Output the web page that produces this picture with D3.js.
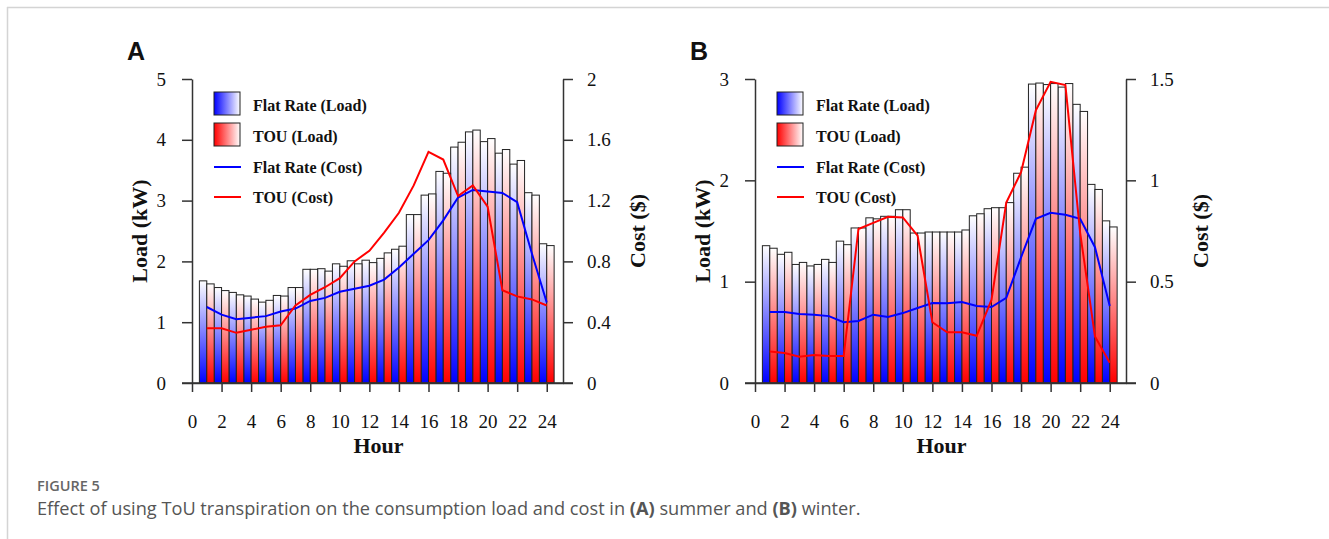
<!DOCTYPE html>
<html>
<head>
<meta charset="utf-8">
<script src="https://cdn.jsdelivr.net/npm/d3@7"></script>
<style>
  body { margin: 0; background: #fff; }
  svg { display: block; }
  .tick text { font-family: "Liberation Serif", "Times New Roman", serif; font-size: 19px; fill: #111; }
  .axis path, .axis line { stroke: #333; stroke-width: 1.5; }
  .title { font-family: "Liberation Serif", serif; font-weight: bold; font-size: 22px; fill: #111; }
  .legend text { font-family: "Liberation Serif", serif; font-weight: bold; font-size: 16px; fill: #111; }
  .panel { font-family: "Liberation Sans", Arial, sans-serif; font-weight: bold; font-size: 25px; fill: #111; }
</style>
</head>
<body>
<svg width="1329" height="539"></svg>
<script>
// hours of the day
const hours = [1, 2, 3, 4, 5, 6, 7, 8, 9, 10, 11, 12, 13, 14, 15, 16, 17, 18, 19, 20, 21, 22, 23, 24]

// (A) summer
const flatLoadA = [1.68, 1.57, 1.49, 1.43, 1.33, 1.44, 1.57, 1.87, 1.88, 1.96, 2.01, 2.02, 2.05, 2.20, 2.77, 3.09, 3.48, 3.88, 4.13, 3.97, 3.78, 3.60, 3.13, 2.29]
const touLoadA = [1.63, 1.52, 1.45, 1.38, 1.36, 1.43, 1.57, 1.87, 1.84, 1.92, 1.96, 1.98, 2.14, 2.25, 2.77, 3.11, 3.45, 3.96, 4.16, 4.02, 3.84, 3.66, 3.09, 2.26]
const flatCostA = [0.50, 0.45, 0.42, 0.43, 0.44, 0.47, 0.49, 0.54, 0.56, 0.60, 0.62, 0.64, 0.68, 0.76, 0.85, 0.94, 1.07, 1.22, 1.27, 1.26, 1.25, 1.19, 0.85, 0.53]
const touCostA = [0.36, 0.36, 0.33, 0.35, 0.37, 0.38, 0.51, 0.58, 0.63, 0.69, 0.80, 0.87, 0.99, 1.12, 1.30, 1.52, 1.47, 1.23, 1.30, 1.16, 0.61, 0.57, 0.55, 0.51]

// (B) winter
const flatLoadB = [1.355, 1.27, 1.17, 1.155, 1.22, 1.40, 1.53, 1.63, 1.645, 1.71, 1.48, 1.49, 1.49, 1.49, 1.65, 1.72, 1.73, 2.07, 2.95, 2.945, 2.92, 2.75, 1.96, 1.60]
const touLoadB = [1.33, 1.29, 1.19, 1.17, 1.19, 1.365, 1.53, 1.62, 1.645, 1.71, 1.48, 1.49, 1.49, 1.51, 1.67, 1.73, 1.78, 2.13, 2.96, 2.955, 2.955, 2.68, 1.91, 1.54]
const flatCostB = [0.35, 0.35, 0.34, 0.337, 0.33, 0.30, 0.306, 0.337, 0.326, 0.345, 0.37, 0.395, 0.393, 0.40, 0.38, 0.375, 0.42, 0.62, 0.81, 0.84, 0.83, 0.81, 0.67, 0.38]
const touCostB = [0.155, 0.148, 0.13, 0.138, 0.133, 0.133, 0.76, 0.79, 0.82, 0.817, 0.727, 0.30, 0.25, 0.25, 0.233, 0.41, 0.89, 1.04, 1.345, 1.486, 1.47, 0.74, 0.23, 0.10]

// tick labels
const hourTicks = [0, 2, 4, 6, 8, 10, 12, 14, 16, 18, 20, 22, 24]
const loadTicksA = [0, 1, 2, 3, 4, 5]
const costTicksA = [0, 0.4, 0.8, 1.2, 1.6, 2]
const loadTicksB = [0, 1, 2, 3]
const costTicksB = [0, 0.5, 1, 1.5]

const legendLabels = ['Flat Rate (Load)', 'TOU (Load)', 'Flat Rate (Cost)', 'TOU (Cost)']

const BLUE = '#0000ff'
const RED = '#ff0000'
const fmt = (d) => `${d}`

const svg = d3.select('svg')

// frame lines
svg.append('line').attr('x1', 7).attr('y1', 7.5).attr('x2', 1329).attr('y2', 7.5)
  .attr('stroke', '#d4d4d4').attr('stroke-width', 1.5)
svg.append('line').attr('x1', 7.5).attr('y1', 7).attr('x2', 7.5).attr('y2', 539)
  .attr('stroke', '#d4d4d4').attr('stroke-width', 1.5)

// gradients
const defs = svg.append('defs')
function grad(id, color, vertical) {
  const g = defs.append('linearGradient').attr('id', id)
  if (vertical) g.attr('x1', 0).attr('y1', 1).attr('x2', 0).attr('y2', 0)
  else g.attr('x1', 0).attr('y1', 0).attr('x2', 1).attr('y2', 0)
  g.append('stop').attr('offset', '0%').attr('stop-color', color)
  g.append('stop').attr('offset', '100%').attr('stop-color', '#fff')
}
grad('vBlue', BLUE, true)
grad('vRed', RED, true)
grad('hBlue', BLUE, false)
grad('hRed', RED, false)

function drawPanel(p) {
  const top = 79, bottom = 383
  const x = d3.scaleLinear().domain([0, 25.1]).range([p.left, p.right])
  const yL = d3.scaleLinear().domain([0, p.loadMax]).range([bottom, top])
  const yR = d3.scaleLinear().domain([0, p.costMax]).range([bottom, top])

  const g = svg.append('g')

  // bars: flat rate left half, TOU right half of each hour
  g.selectAll('.fbar').data(hours).enter().append('rect')
    .attr('x', (h) => x(h - 0.5))
    .attr('width', (h) => x(h) - x(h - 0.5))
    .attr('y', (h, i) => yL(p.flatLoad[i]))
    .attr('height', (h, i) => bottom - yL(p.flatLoad[i]))
    .attr('fill', 'url(#vBlue)')
    .attr('stroke', '#222').attr('stroke-width', 1)

  g.selectAll('.tbar').data(hours).enter().append('rect')
    .attr('x', (h) => x(h))
    .attr('width', (h) => x(h + 0.5) - x(h))
    .attr('y', (h, i) => yL(p.touLoad[i]))
    .attr('height', (h, i) => bottom - yL(p.touLoad[i]))
    .attr('fill', 'url(#vRed)')
    .attr('stroke', '#222').attr('stroke-width', 1)

  const line = (vals) => d3.line()
    .x((h) => x(h))
    .y((h, i) => yR(vals[i]))(hours)

  g.append('path').attr('d', line(p.flatCost))
    .attr('fill', 'none').attr('stroke', BLUE).attr('stroke-width', 2)
  g.append('path').attr('d', line(p.touCost))
    .attr('fill', 'none').attr('stroke', RED).attr('stroke-width', 2)

  // axes
  g.append('g').attr('class', 'axis')
    .attr('transform', `translate(0, ${bottom})`)
    .call(d3.axisBottom(x).tickValues(hourTicks).tickFormat(fmt).tickSize(9).tickSizeOuter(0).tickPadding(23))
  g.append('g').attr('class', 'axis')
    .attr('transform', `translate(${p.left}, 0)`)
    .call(d3.axisLeft(yL).tickValues(p.loadTicks).tickFormat(fmt).tickSize(10).tickSizeOuter(0).tickPadding(16))
  g.append('g').attr('class', 'axis')
    .attr('transform', `translate(${p.right}, 0)`)
    .call(d3.axisRight(yR).tickValues(p.costTicks).tickFormat(fmt).tickSize(10).tickSizeOuter(0).tickPadding(14))
  // bottom line reaching the side ticks
  g.append('line').attr('x1', p.left - 10).attr('x2', p.right + 10)
    .attr('y1', bottom).attr('y2', bottom).attr('stroke', '#333').attr('stroke-width', 1.5)

  // titles
  g.append('text').attr('class', 'title')
    .attr('x', (p.left + p.right) / 2 + 1).attr('y', 453)
    .attr('text-anchor', 'middle').text('Hour')
  g.append('text').attr('class', 'title')
    .attr('transform', `translate(${p.left - 45}, 231) rotate(-90)`)
    .attr('text-anchor', 'middle').text('Load (kW)')
  g.append('text').attr('class', 'title')
    .attr('transform', `translate(${p.right + 82}, 231) rotate(-90)`)
    .attr('text-anchor', 'middle').text('Cost ($)')

  g.append('text').attr('class', 'panel')
    .attr('x', p.left - 65).attr('y', 60).text(p.label)

  // legend
  const lg = g.append('g').attr('class', 'legend')
    .attr('transform', `translate(${p.left + 22}, 92)`)
  lg.append('rect').attr('x', 0).attr('y', 0).attr('width', 26).attr('height', 23)
    .attr('fill', 'url(#hBlue)').attr('stroke', '#222')
  lg.append('rect').attr('x', 0).attr('y', 31).attr('width', 26).attr('height', 23)
    .attr('fill', 'url(#hRed)').attr('stroke', '#222')
  lg.append('line').attr('x1', 0).attr('x2', 27).attr('y1', 75).attr('y2', 75)
    .attr('stroke', BLUE).attr('stroke-width', 2)
  lg.append('line').attr('x1', 0).attr('x2', 27).attr('y1', 105).attr('y2', 105)
    .attr('stroke', RED).attr('stroke-width', 2)
  lg.selectAll('text').data(legendLabels).enter().append('text')
    .attr('x', 39)
    .attr('y', (d, i) => 19 + i * 30.8)
    .text((d) => d)
}

drawPanel({
  label: 'A', left: 192, right: 563, loadMax: 5, costMax: 2,
  loadTicks: loadTicksA, costTicks: costTicksA,
  flatLoad: flatLoadA, touLoad: touLoadA, flatCost: flatCostA, touCost: touCostA
})
drawPanel({
  label: 'B', left: 755, right: 1126, loadMax: 3, costMax: 1.5,
  loadTicks: loadTicksB, costTicks: costTicksB,
  flatLoad: flatLoadB, touLoad: touLoadB, flatCost: flatCostB, touCost: touCostB
})

// caption
svg.append('text')
  .attr('x', 37).attr('y', 491)
  .attr('font-family', '"Open Sans", sans-serif').attr('font-size', 14.5).attr('font-weight', 600)
  .attr('fill', '#666').text('FIGURE 5')

const cap = svg.append('text')
  .attr('x', 37).attr('y', 515)
  .attr('font-family', '"Open Sans", sans-serif').attr('font-size', 18.2)
  .attr('fill', '#555')
cap.append('tspan').text('Effect of using ToU transpiration on the consumption load and cost in ')
cap.append('tspan').attr('font-weight', 'bold').text('(A)')
cap.append('tspan').text(' summer and ')
cap.append('tspan').attr('font-weight', 'bold').text('(B)')
cap.append('tspan').text(' winter.')
</script>
</body>
</html>
